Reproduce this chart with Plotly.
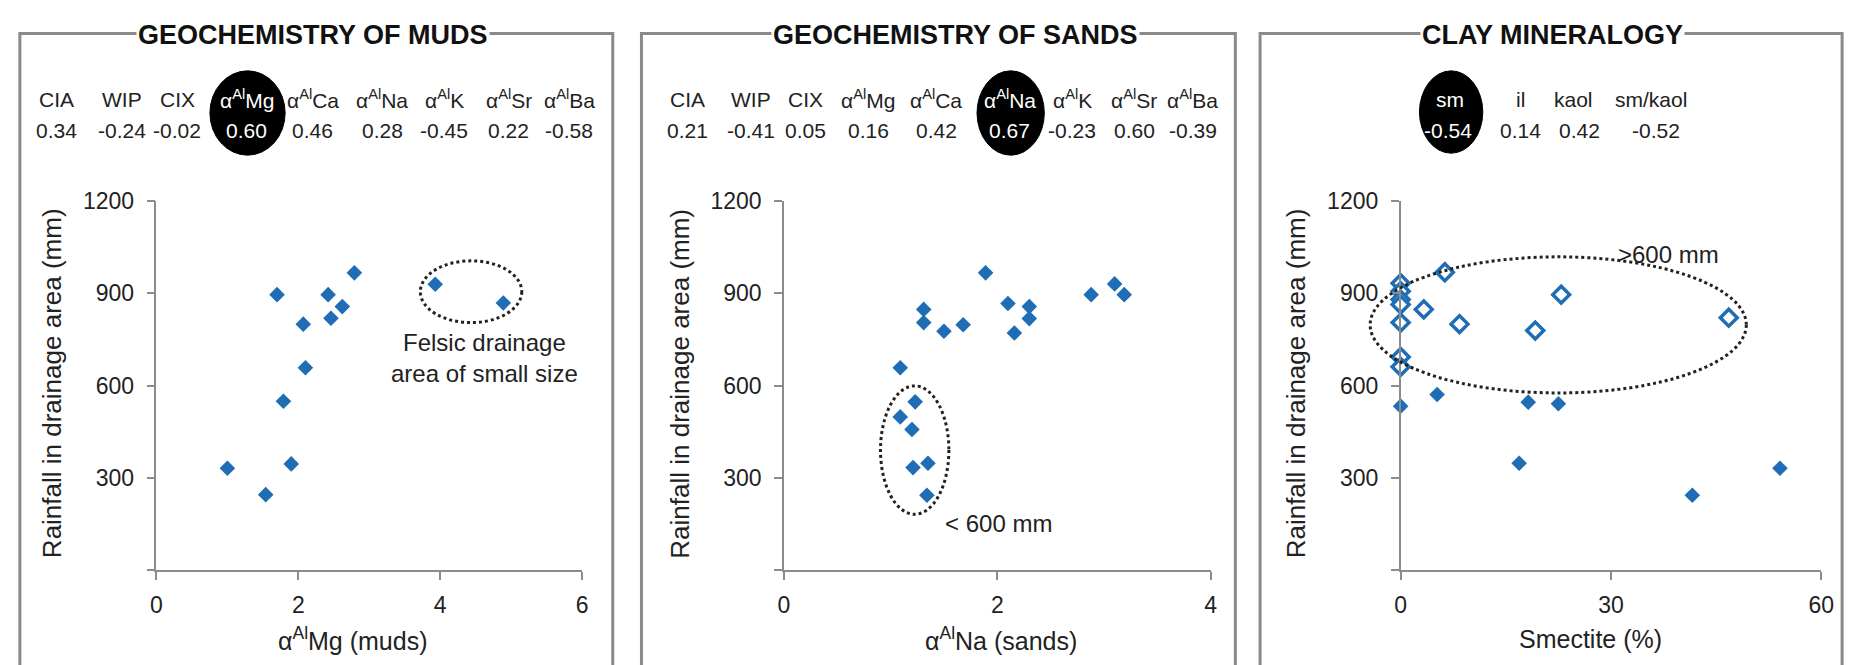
import plotly.graph_objects as go

W, H = 1865, 665

# ---------------- data ----------------
mud_mg = [1.00, 1.54, 1.90, 1.79, 2.10, 2.07, 1.70, 2.42, 2.46, 2.62, 2.79, 3.93, 4.89]
mud_rain = [331, 245, 345, 549, 658, 800, 896, 896, 819, 857, 967, 930, 869]

sand_na = [1.09, 1.31, 1.31, 1.50, 1.68, 1.89, 2.10, 2.16, 2.30, 2.30, 2.88, 3.10, 3.19,
           1.23, 1.09, 1.20, 1.21, 1.35, 1.34]
sand_rain = [658, 848, 805, 777, 798, 967, 867, 771, 857, 818, 896, 931, 896,
             547, 498, 457, 333, 347, 243]

smectite_high = [6.3, 22.9, 3.3, 8.4, 19.2, 46.8, 0, 0, 0, 0, 0, 0, 0]
rain_high = [969, 896, 848, 800, 779, 821, 933, 907, 880, 864, 805, 693, 661]
smectite_low = [0, 5.2, 18.2, 22.5, 16.9, 41.6, 54.1]
rain_low = [533, 571, 546, 541, 347, 243, 331]

geo_labels = ["CIA", "WIP", "CIX", "α<sup>Al</sup>Mg", "α<sup>Al</sup>Ca", "α<sup>Al</sup>Na",
              "α<sup>Al</sup>K", "α<sup>Al</sup>Sr", "α<sup>Al</sup>Ba"]
mud_r = ["0.34", "-0.24", "-0.02", "0.60", "0.46", "0.28", "-0.45", "0.22", "-0.58"]
sand_r = ["0.21", "-0.41", "0.05", "0.16", "0.42", "0.67", "-0.23", "0.60", "-0.39"]
clay_labels = ["sm", "il", "kaol", "sm/kaol"]
clay_r = ["-0.54", "0.14", "0.42", "-0.52"]

panel_titles = ["GEOCHEMISTRY OF MUDS", "GEOCHEMISTRY OF SANDS", "CLAY MINERALOGY"]
x_titles = ["α<sup>Al</sup>Mg (muds)", "α<sup>Al</sup>Na (sands)", "Smectite (%)"]
y_title = "Rainfall in drainage area (mm)"

x_ranges = [[0, 6], [0, 4], [0, 60]]
x_ticks = [[0, 2, 4, 6], [0, 2, 4], [0, 30, 60]]
y_ticks = [0, 300, 600, 900, 1200]
y_ticktext = ["", "300", "600", "900", "1200"]

# ---------------- layout helpers ----------------
FONT = "Liberation Sans, Arial, sans-serif"
BLUE = "#1f6db4"
def px(x):
    return x / W
def py(y):
    return 1 - y / H

x_doms = [[px(152), px(582)], [px(786), px(1217)], [px(1409), px(1834)]]
y_dom = [py(568), py(192)]

fig = go.Figure()

fig.add_trace(go.Scatter(x=mud_mg, y=mud_rain, mode="markers", xaxis="x", yaxis="y",
                         marker=dict(symbol="diamond", size=12, color=BLUE), cliponaxis=False))
fig.add_trace(go.Scatter(x=sand_na, y=sand_rain, mode="markers", xaxis="x2", yaxis="y2",
                         marker=dict(symbol="diamond", size=12, color=BLUE), cliponaxis=False))
fig.add_trace(go.Scatter(x=smectite_low, y=rain_low, mode="markers", xaxis="x3", yaxis="y3",
                         marker=dict(symbol="diamond", size=12, color=BLUE), cliponaxis=False))
fig.add_trace(go.Scatter(x=smectite_high, y=rain_high, mode="markers", xaxis="x3", yaxis="y3",
                         marker=dict(symbol="diamond", size=13, color="white",
                                     line=dict(color=BLUE, width=3.5)), cliponaxis=False))

axis_common = dict(showgrid=False, zeroline=False, showline=True, linecolor="#8c8c8c",
                   linewidth=1.5, ticks="outside", ticklen=8, tickcolor="#8c8c8c",
                   tickwidth=1.5, tickfont=dict(family=FONT, size=23, color="#222"))

layout = dict(width=W, height=H, margin=dict(l=0, r=0, t=0, b=0),
              paper_bgcolor="white", plot_bgcolor="white", showlegend=False,
              font=dict(family=FONT, color="#222"))
for i in range(3):
    s = "" if i == 0 else str(i + 1)
    layout["xaxis" + s] = dict(axis_common, domain=x_doms[i], range=x_ranges[i],
                               tickvals=x_ticks[i], anchor="y" + s, ticklabelstandoff=6)
    layout["yaxis" + s] = dict(axis_common, domain=y_dom, range=[0, 1200],
                               tickvals=y_ticks, ticktext=y_ticktext, anchor="x" + s,
                               ticklabelstandoff=8)
fig.update_layout(**layout)

shapes = []
annotations = []

# panel frames and titles
frames = [(14, 613), (642, 1242), (1267, 1855)]
title_cx = [310, 959, 1562]
for (l, r), t, cx in zip(frames, panel_titles, title_cx):
    shapes.append(dict(type="rect", xref="paper", yref="paper", x0=px(l), x1=px(r),
                       y0=py(680), y1=py(21), line=dict(color="#8a8a8a", width=3),
                       layer="below"))
    annotations.append(dict(text="<b>" + t + "</b>", xref="paper", yref="paper",
                            x=px(cx), y=py(22), showarrow=False, bgcolor="white",
                            font=dict(family=FONT, size=27, color="#111"),
                            xanchor="center", yanchor="middle", borderpad=1))

# highlight ellipses behind the best correlations
highlights = [(244, 102, 76, 86), (1015, 102, 68, 86), (1460, 101, 64, 84)]
for cx, cy, w, h in highlights:
    shapes.append(dict(type="circle", xref="paper", yref="paper",
                       x0=px(cx - w / 2), x1=px(cx + w / 2), y0=py(cy + h / 2), y1=py(cy - h / 2),
                       fillcolor="black", line=dict(color="black", width=1), layer="below"))

# correlation tables
mud_cols = [51, 117, 173, 243, 310, 380, 443, 508, 569]
sand_cols = [689, 753, 808, 871, 940, 1014, 1077, 1140, 1199]
clay_head_cols = [1459, 1530, 1584, 1662]
clay_val_cols = [1457, 1530, 1590, 1667]
HEAD_Y, VAL_Y = 88, 120

def table(labels, values, hcols, vcols, hi):
    for k, (lab, val) in enumerate(zip(labels, values)):
        col = "white" if k == hi else "#222"
        annotations.append(dict(text=lab, xref="paper", yref="paper", x=px(hcols[k]), y=py(HEAD_Y),
                                showarrow=False, xanchor="center", yanchor="middle",
                                font=dict(family=FONT, size=21, color=col)))
        annotations.append(dict(text=val, xref="paper", yref="paper", x=px(vcols[k]), y=py(VAL_Y),
                                showarrow=False, xanchor="center", yanchor="middle",
                                font=dict(family=FONT, size=21, color=col)))

table(geo_labels, mud_r, mud_cols, mud_cols, 3)
table(geo_labels, sand_r, sand_cols, sand_cols, 5)
table(clay_labels, clay_r, clay_head_cols, clay_val_cols, 0)

# axis titles
ytitle_x = [46, 681, 1303]
xtitle_x = [350, 1005, 1601]
for i in range(3):
    annotations.append(dict(text=y_title, xref="paper", yref="paper", x=px(ytitle_x[i]), y=py(378),
                            showarrow=False, textangle=-90, xanchor="center", yanchor="middle",
                            font=dict(family=FONT, size=26, color="#222")))
    annotations.append(dict(text=x_titles[i], xref="paper", yref="paper", x=px(xtitle_x[i]), y=py(638),
                            showarrow=False, xanchor="center", yanchor="middle",
                            font=dict(family=FONT, size=25, color="#222")))

# dotted grouping ellipses (data coordinates)
DOT = dict(color="#222", width=3, dash="dot")
shapes.append(dict(type="circle", xref="x", yref="y", x0=3.72, x1=5.15, y0=805, y1=1006, line=DOT))
shapes.append(dict(type="circle", xref="x2", yref="y2", x0=0.905, x1=1.546, y0=181, y1=599, line=DOT))
# clay ellipse crosses the y axis: use x-domain fractions derived from the axis range
xr = x_ranges[2]
def dom3(v):
    return (v - xr[0]) / (xr[1] - xr[0])
shapes.append(dict(type="circle", xref="x3 domain", yref="y3", x0=dom3(-4.35), x1=dom3(49.3),
                   y0=576, y1=1019, line=DOT))

annotations.append(dict(text="Felsic drainage<br>area of small size", xref="x", yref="y",
                        x=4.63, y=690, showarrow=False, xanchor="center", yanchor="middle",
                        font=dict(family=FONT, size=24, color="#222")))
annotations.append(dict(text="< 600 mm", xref="x2", yref="y2", x=1.49, y=152, showarrow=False,
                        xanchor="left", yanchor="middle", font=dict(family=FONT, size=24, color="#222")))
annotations.append(dict(text=">600 mm", xref="x3", yref="y3", x=38.2, y=1026, showarrow=False,
                        xanchor="center", yanchor="middle", font=dict(family=FONT, size=24, color="#222")))

fig.update_layout(shapes=shapes, annotations=annotations)
fig.write_html("out.html")
